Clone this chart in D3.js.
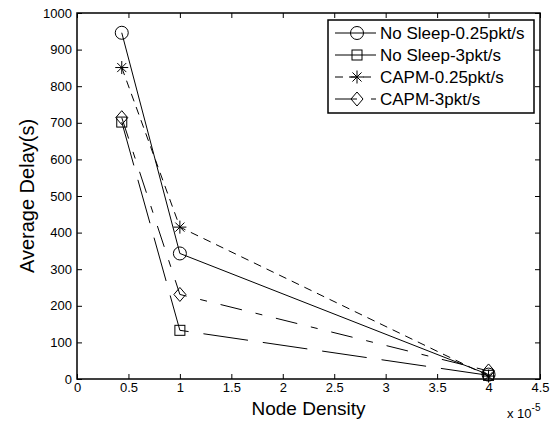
<!DOCTYPE html>
<html>
<head>
<meta charset="utf-8">
<script src="https://cdn.jsdelivr.net/npm/d3@7"></script>
<style>
  body { margin: 0; background: #fff; }
  text { font-family: "Liberation Sans", Arial, sans-serif; fill: #000; }
</style>
</head>
<body>
<svg id="chart" width="558" height="425"></svg>
<script>
// node density values (x 10^-5)
const density = [0.435, 1, 4];

// average delay (s) per series
const noSleep025 = [946, 343, 12];
const noSleep3 = [702, 133, 10];
const capm025 = [851, 415, 8];
const capm3 = [714, 231, 22];

const seriesNames = ['No Sleep-0.25pkt/s', 'No Sleep-3pkt/s', 'CAPM-0.25pkt/s', 'CAPM-3pkt/s'];
const xTicks = [0, 0.5, 1, 1.5, 2, 2.5, 3, 3.5, 4, 4.5];
const yTicks = [0, 100, 200, 300, 400, 500, 600, 700, 800, 900, 1000];

const series = [
  { name: seriesNames[0], values: noSleep025, marker: 'circle', dash: null },
  { name: seriesNames[1], values: noSleep3, marker: 'square', dash: '45,15' },
  { name: seriesNames[2], values: capm025, marker: 'star', dash: '8,6' },
  { name: seriesNames[3], values: capm3, marker: 'diamond', dash: '22,14,7,14' }
];

const margin = { left: 77, top: 13, right: 18, bottom: 46 };
const W = 558, H = 425;
const width = W - margin.left - margin.right;
const height = H - margin.top - margin.bottom;

const svg = d3.select('#chart');
const g = svg.append('g').attr('transform', `translate(${margin.left},${margin.top})`);

const x = d3.scaleLinear().domain([0, 4.5]).range([0, width]);
const y = d3.scaleLinear().domain([0, 1000]).range([height, 0]);

// axes (matlab style: ticks inside, on all four sides)
const tickLen = 5;
g.append('g').attr('transform', `translate(0,${height})`)
  .call(d3.axisBottom(x).tickValues(xTicks).tickSize(-tickLen).tickPadding(4).tickFormat(d3.format('')));
g.append('g')
  .call(d3.axisTop(x).tickValues(xTicks).tickSize(-tickLen).tickFormat(''));
g.append('g')
  .call(d3.axisLeft(y).tickValues(yTicks).tickSize(-tickLen).tickPadding(5).tickFormat(d3.format('')));
g.append('g').attr('transform', `translate(${width},0)`)
  .call(d3.axisRight(y).tickValues(yTicks).tickSize(-tickLen).tickFormat(''));

g.selectAll('.domain').remove();
g.selectAll('.tick line').attr('stroke', '#000').attr('stroke-width', 1);
g.selectAll('.tick text').attr('font-size', 13).attr('fill', '#000')
  .style('font-family', '"Liberation Sans", Arial, sans-serif');

g.append('rect')
  .attr('width', width).attr('height', height)
  .attr('fill', 'none').attr('stroke', '#000').attr('stroke-width', 1.5);

// marker drawing
function drawMarker(sel, type) {
  if (type === 'circle') {
    sel.append('circle').attr('r', 6.5);
  } else if (type === 'square') {
    sel.append('rect').attr('x', -5).attr('y', -5).attr('width', 10).attr('height', 10);
  } else if (type === 'diamond') {
    sel.append('path').attr('d', 'M0,-7L6,0L0,7L-6,0Z');
  } else if (type === 'star') {
    const r = 6.5;
    sel.append('path').attr('d',
      `M${-r},0H${r}M0,${-r}V${r}M${-r * 0.7},${-r * 0.7}L${r * 0.7},${r * 0.7}M${-r * 0.7},${r * 0.7}L${r * 0.7},${-r * 0.7}`);
  }
  sel.selectAll('circle,rect,path').attr('fill', 'none').attr('stroke', '#000').attr('stroke-width', 1);
}

const line = d3.line().x(d => x(d[0])).y(d => y(d[1]));

series.forEach(s => {
  const pts = density.map((d, i) => [d, s.values[i]]);
  g.append('path')
    .datum(pts)
    .attr('d', line)
    .attr('fill', 'none')
    .attr('stroke', '#000')
    .attr('stroke-width', 1)
    .attr('stroke-dasharray', s.dash);
  pts.forEach(p => {
    const m = g.append('g').attr('transform', `translate(${x(p[0])},${y(p[1])})`);
    drawMarker(m, s.marker);
  });
});

// legend
const legend = g.append('g').attr('transform', `translate(${328 - margin.left},${20 - margin.top})`);
legend.append('rect')
  .attr('width', 206).attr('height', 93)
  .attr('fill', '#fff').attr('stroke', '#000').attr('stroke-width', 1.5);

series.forEach((s, i) => {
  const row = legend.append('g').attr('transform', `translate(0,${13 + i * 22})`);
  row.append('line')
    .attr('x1', 7).attr('x2', 48).attr('y1', 0).attr('y2', 0)
    .attr('stroke', '#000').attr('stroke-width', 1)
    .attr('stroke-dasharray', s.dash);
  const m = row.append('g').attr('transform', 'translate(29,0)');
  drawMarker(m, s.marker);
  row.append('text')
    .attr('x', 52).attr('y', 6)
    .attr('font-size', 17)
    .text(s.name);
});

// axis labels
svg.append('text')
  .attr('x', margin.left + x(2.25)).attr('y', 415)
  .attr('text-anchor', 'middle').attr('font-size', 19)
  .text('Node Density');

svg.append('text')
  .attr('transform', `translate(34,${margin.top + height / 2}) rotate(-90)`)
  .attr('text-anchor', 'middle').attr('font-size', 20)
  .text('Average Delay(s)');

// exponent label
const expo = svg.append('text')
  .attr('x', 507).attr('y', 418).attr('font-size', 13);
expo.append('tspan').text('x 10');
expo.append('tspan').attr('dy', -7).attr('font-size', 10).text('-5');
</script>
</body>
</html>
